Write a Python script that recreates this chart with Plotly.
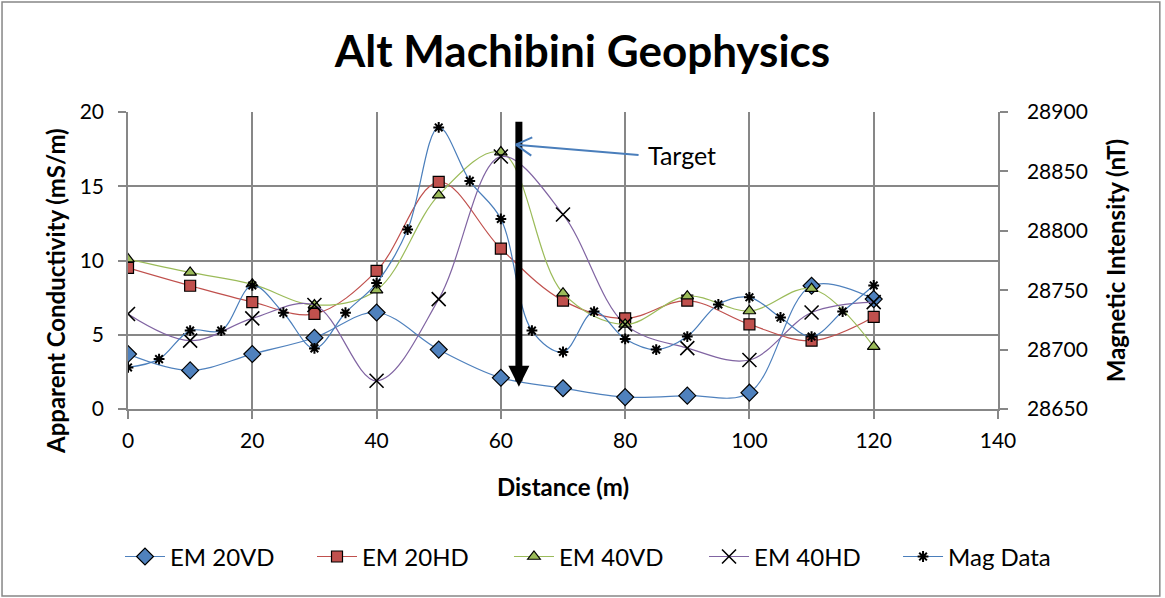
import plotly.graph_objects as go

dist_em = [0, 10, 20, 30, 40, 50, 60, 70, 80, 90, 100, 110, 120]
em20vd = [3.7, 2.6, 3.7, 4.8, 6.5, 4.0, 2.1, 1.4, 0.8, 0.9, 1.1, 8.3, 7.4]
em20hd = [9.5, 8.3, 7.2, 6.4, 9.3, 15.3, 10.8, 7.3, 6.1, 7.3, 5.7, 4.6, 6.2]
em40vd = [10.1, 9.2, 8.4, 7.0, 8.0, 14.4, 17.3, 7.8, 5.7, 7.6, 6.6, 8.1, 4.2]
em40hd = [6.4, 4.6, 6.1, 7.0, 1.9, 7.4, 17.0, 13.1, 5.7, 4.1, 3.3, 6.5, 7.2]
dist_mag = [0, 5, 10, 15, 20, 25, 30, 35, 40, 45, 50, 55, 60, 65, 70, 75, 80,
            85, 90, 95, 100, 105, 110, 115, 120]
mag = [28685, 28692, 28716, 28716, 28754, 28731, 28701, 28731, 28756, 28801,
       28887, 28842, 28810, 28716, 28698, 28732, 28709, 28700, 28711, 28738,
       28744, 28727, 28711, 28732, 28754]

GRID = "#878787"
fig = go.Figure()
common = dict(mode="lines+markers", line_shape="spline")
fig.add_trace(go.Scatter(x=dist_em, y=em20vd, name="EM 20VD", legend="legend",
    line=dict(color="#4F81BD", width=1.2),
    marker=dict(symbol="diamond", size=13, color="#4F81BD", line=dict(color="black", width=1.2)), **common))
fig.add_trace(go.Scatter(x=dist_em, y=em20hd, name="EM 20HD", legend="legend2",
    line=dict(color="#C0504D", width=1.2),
    marker=dict(symbol="square", size=11, color="#C0504D", line=dict(color="black", width=1.2)), **common))
fig.add_trace(go.Scatter(x=dist_em, y=em40vd, name="EM 40VD", legend="legend3",
    line=dict(color="#9BBB59", width=1.2),
    marker=dict(symbol="triangle-up", size=11, color="#9BBB59", line=dict(color="black", width=1.2)), **common))
fig.add_trace(go.Scatter(x=dist_em, y=em40hd, name="EM 40HD", legend="legend4",
    line=dict(color="#8064A2", width=1.2),
    marker=dict(symbol="x-thin-open", size=14, color="black", line=dict(color="black", width=1.6)), **common))
fig.add_trace(go.Scatter(x=dist_mag, y=mag, name="Mag Data", yaxis="y2", legend="legend5",
    line=dict(color="#4A7EBB", width=1.2),
    marker=dict(symbol="asterisk-open", size=9, color="black", line=dict(color="black", width=2)), **common))

axis_common = dict(showline=True, linecolor=GRID, linewidth=1.5, zeroline=False,
                   ticks="outside", ticklen=8, tickcolor=GRID, tickwidth=1.5,
                   tickfont=dict(size=21), automargin=False)

def leg(xp):
    return dict(orientation="h", x=xp, xanchor="left", y=-0.498, yanchor="middle",
                font=dict(size=24), itemwidth=40, bgcolor="rgba(0,0,0,0)")

fig.update_layout(
    width=1165, height=598,
    paper_bgcolor="white", plot_bgcolor="white",
    margin=dict(l=128, r=167, t=112, b=189, autoexpand=False),
    font=dict(family="Lato, Liberation Sans, sans-serif", size=21, color="black"),
    title=dict(text="<b>Alt Machibini Geophysics</b>", x=0.5, xanchor="center",
               y=0.913, yanchor="middle", font=dict(size=44, color="black")),
    xaxis=dict(range=[0, 140], dtick=20, showgrid=True, gridcolor=GRID, gridwidth=1.5,
               ticklabelstandoff=4,
               title=dict(text="<b>Distance (m)</b>", font=dict(size=24), standoff=28), **axis_common),
    yaxis=dict(range=[0, 20], dtick=5, showgrid=True, gridcolor=GRID, gridwidth=1.5,
               ticklabelstandoff=10, **axis_common),
    yaxis2=dict(range=[28650, 28900], dtick=50, overlaying="y", side="right", showgrid=False,
                tickformat="d", ticklabelstandoff=15,
                title=dict(text="<b>Magnetic Intensity (nT)</b>", font=dict(size=24), standoff=21),
                **axis_common),
    legend=leg(-0.0092), legend2=leg(0.2115), legend3=leg(0.4379),
    legend4=leg(0.6621), legend5=leg(0.8851),
    showlegend=True,
)

# Left axis title (placed lower as in reference)
fig.add_annotation(xref="paper", yref="paper", x=(55 - 128) / 870, y=(409 - 291) / 297,
                   text="<b>Apparent Conductivity (mS/m)</b>", textangle=-90, showarrow=False,
                   xanchor="center", yanchor="middle", font=dict(size=24, color="black"))

# Thick black target arrow
fig.add_annotation(x=62.9, y=1.5, ax=62.9, ay=19.45, xref="x", yref="y", axref="x", ayref="y",
                   showarrow=True, arrowhead=2, arrowsize=0.6, arrowwidth=7, arrowcolor="black", text="")
# Target label
fig.add_annotation(x=83.3, y=17.1, xref="x", yref="y", text="Target", showarrow=False,
                   xanchor="left", yanchor="middle", font=dict(size=25, color="black"))
# Blue pointer line with open chevron head
BLUE = "#4A7EBB"
fig.add_annotation(x=62.4, y=17.8, ax=82.4, ay=17.1, xref="x", yref="y", axref="x", ayref="y",
                   text="", showarrow=True, arrowhead=0, arrowwidth=2, arrowcolor=BLUE)
fig.add_annotation(x=62.4, y=17.8, ax=18, ay=-8, xref="x", yref="y",
                   text="", showarrow=True, arrowhead=0, arrowwidth=2, arrowcolor=BLUE)
fig.add_annotation(x=62.4, y=17.8, ax=17, ay=12, xref="x", yref="y",
                   text="", showarrow=True, arrowhead=0, arrowwidth=2, arrowcolor=BLUE)

# Outer frame
fig.add_shape(type="rect", xref="paper", yref="paper", x0=-0.1448, x1=1.186, y0=-0.6296, y1=1.370,
              line=dict(color=GRID, width=1.5))

fig.write_html("out.html")
